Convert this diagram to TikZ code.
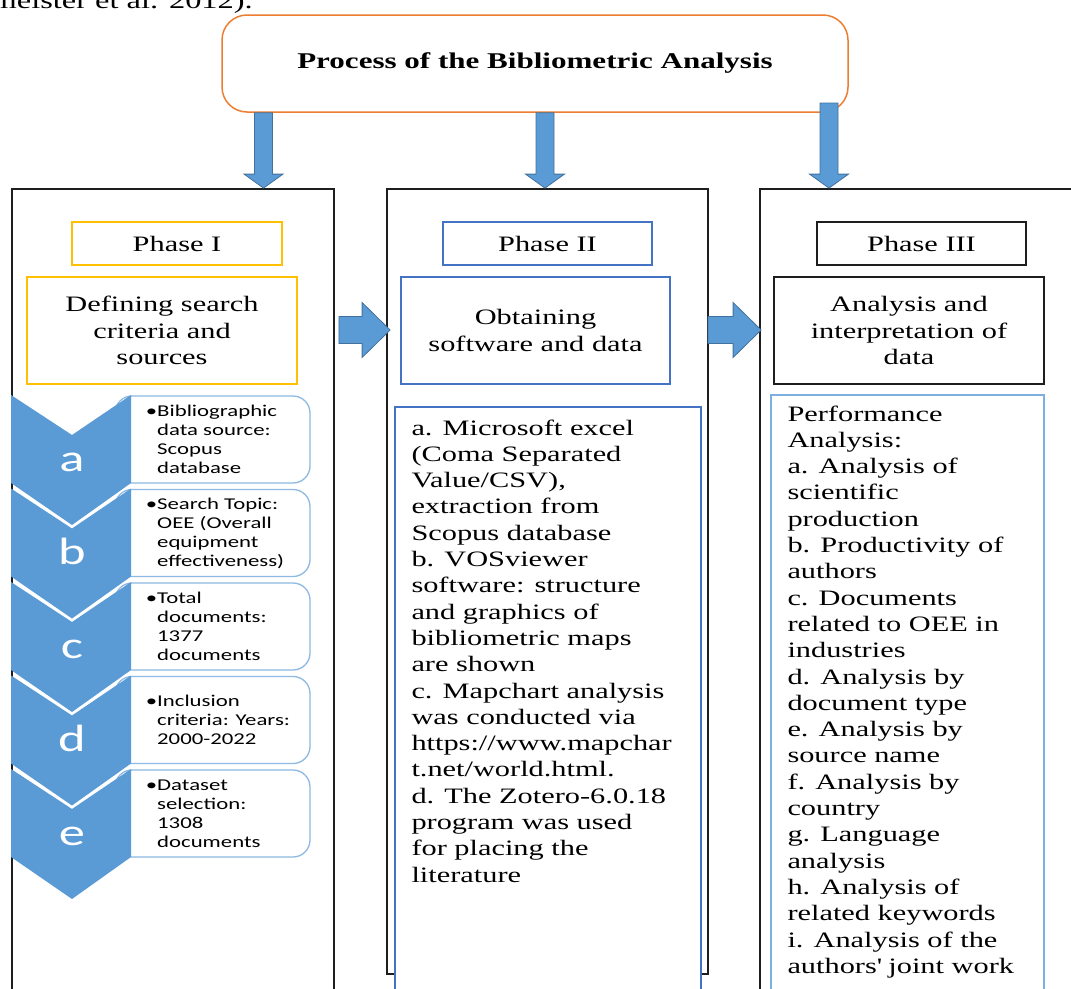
\documentclass[tikz,border=0pt]{standalone}
\usepackage{fontspec}
\setmainfont{Liberation Serif}[FakeStretch=1.38]
\newfontfamily\itemfont{Carlito}[FakeStretch=1.38]
\usepackage{tikz}
\usetikzlibrary{calc}
\definecolor{accentblue}{HTML}{5B9BD5}
\definecolor{arrowedge}{HTML}{41719C}
\definecolor{phaseblue}{HTML}{4472C4}
\definecolor{phaseyellow}{HTML}{FFC000}
\definecolor{titleorange}{HTML}{ED7D31}
\definecolor{itemblue}{HTML}{8DB9E2}
\definecolor{bodyblue}{HTML}{7DB0E0}
\definecolor{framegray}{HTML}{1E1E1E}
\newcommand{\bodyfont}{\fontsize{22pt}{26.3pt}\selectfont}
\tikzset{
  colframe/.style={draw=framegray, line width=1.8pt, fill=white, inner sep=0pt},
  phaselabel/.style={draw=#1, line width=1.4pt, fill=white, font=\bodyfont, align=center, inner sep=0pt},
  titlebox/.style={draw=titleorange, line width=1.5pt, rounded corners=25pt, font=\fontsize{22.5pt}{26pt}\selectfont\bfseries},
  bodybox/.style={draw=#1, line width=1.4pt, fill=white, inner sep=0pt},
  bodytext/.style={font=\bodyfont, align=left, inner sep=0pt},
  itembox/.style={draw=itemblue, line width=1.3pt, fill=white, rounded corners=17pt, inner sep=0pt},
  itemtext/.style={font=\itemfont\fontsize{16.5pt}{19pt}\selectfont, align=left, inner sep=0pt, anchor=west},
  chevlabel/.style={text=white, font=\itemfont\fontsize{38pt}{40pt}\selectfont, anchor=base, inner sep=0pt},
  blockarrow/.style={fill=accentblue, draw=arrowedge, line width=0.8pt, line join=miter}
}
% block arrow pointing down, from #2 to its tip #3
\newcommand{\blockdown}[3][]{%
  \draw[blockarrow,#1] let \p1=(#2), \p2=(#3) in
    (\x1-\shafthalf,\y1) -- (\x1+\shafthalf,\y1) -- (\x1+\shafthalf,\y2+\headlen)
    -- (\x1+\headhalf,\y2+\headlen) -- (\x1,\y2) -- (\x1-\headhalf,\y2+\headlen)
    -- (\x1-\shafthalf,\y2+\headlen) -- cycle;%
}
% block arrow pointing right, from #2 to its tip #3
\newcommand{\blockright}[3][]{%
  \draw[blockarrow,#1] let \p1=(#2), \p2=(#3) in
    (\x1,\y1+\rshafthalf) -- (\x2-\rheadlen,\y1+\rshafthalf) -- (\x2-\rheadlen,\y1+\rheadhalf)
    -- (\x2,\y1) -- (\x2-\rheadlen,\y1-\rheadhalf) -- (\x2-\rheadlen,\y1-\rshafthalf)
    -- (\x1,\y1-\rshafthalf) -- cycle;%
}

\begin{document}
\begin{tikzpicture}[x=1pt, y=-1pt]

  % page
  \useasboundingbox (0,0) rectangle (1071,988);

  % sizes of the block arrows
  \def\shafthalf{9pt}
  \def\headhalf{19.5pt}
  \def\headlen{14pt}
  \def\rshafthalf{13.5pt}
  \def\rheadhalf{27.5pt}
  \def\rheadlen{28pt}

  % end of the sentence above the figure
  \node[anchor=base east, font=\fontsize{23.5pt}{28pt}\selectfont, inner sep=0pt] (cite) at (253,8) {meister et al. 2012).};

  % title
  \node[titlebox, minimum width=626pt, minimum height=97pt] (title) at (535,63.5) {Process of the Bibliometric Analysis};

  % columns
  \node[colframe, minimum width=322pt, minimum height=830pt] (col1) at (173,604) {};
  \node[colframe, minimum width=321pt, minimum height=785pt] (col2) at (547.5,581.5) {};
  \node[colframe, minimum width=330pt, minimum height=830pt] (col3) at (925,604) {};

  % phase labels
  \node[phaselabel=phaseyellow, minimum width=210pt, minimum height=43pt] (phase1) at (177,243.5) {Phase I};
  \node[phaselabel=phaseblue, minimum width=209pt, minimum height=43pt] (phase2) at (547.5,243.5) {Phase II};
  \node[phaselabel=framegray, minimum width=209pt, minimum height=43pt] (phase3) at (921.5,243.5) {Phase III};

  % phase contents
  \node[phaselabel=phaseyellow, minimum width=270pt, minimum height=107pt] (stage1) at (162,330.5) {Defining search\\criteria and\\sources};
  \node[phaselabel=phaseblue, minimum width=269pt, minimum height=107pt] (stage2) at (535.5,330.5) {Obtaining\\software and data};
  \node[phaselabel=framegray, minimum width=270pt, minimum height=107pt] (stage3) at (909,330.5) {Analysis and\\interpretation of\\data};

  % steps of phase I
  \foreach \i/\lab in {0/a, 1/b, 2/c, 3/d, 4/e}{
    \pgfmathsetmacro{\yo}{395+\i*93.5}
    \node[itembox, minimum width=195pt, minimum height=87pt] (item\lab) at (212.5,\yo+44.5) {};
    \fill[accentblue] (11,\yo) -- (72,\yo+40) -- (131,\yo) -- (131,\yo+88)
      -- (72,\yo+130) -- (11,\yo+88) -- cycle;
    \node[chevlabel] (chev\lab) at (72,\yo+76) {\lab};
  }
  \coordinate (textcol) at (157,0);
  \node[itemtext] (texta) at (itema -| textcol) {\llap{•}Bibliographic\\data source:\\Scopus\\database};
  \node[itemtext] (textb) at (itemb -| textcol) {\llap{•}Search Topic:\\OEE (Overall\\equipment\\effectiveness)};
  \node[itemtext] (textc) at (itemc -| textcol) {\llap{•}Total\\documents:\\1377\\documents};
  \node[itemtext] (textd) at (itemd -| textcol) {\llap{•}Inclusion\\criteria: Years:\\2000-2022};
  \node[itemtext] (texte) at (iteme -| textcol) {\llap{•}Dataset\\selection:\\1308\\documents};

  % lists of phases II and III
  \node[bodybox=phaseblue, minimum width=306pt, minimum height=603pt] (body2) at (548,708.5) {};
  \node[bodybox=bodyblue, minimum width=273pt, minimum height=615pt] (body3) at (907.5,702.5) {};
  \node[bodytext, anchor=north west] (list2) at ($(body2.north west)+(17,13)$)
    {a. Microsoft excel\\(Coma Separated\\Value/CSV),\\extraction from\\Scopus database\\b. VOSviewer\\software: structure\\and graphics of\\bibliometric maps\\are shown\\c. Mapchart analysis\\was conducted via\\https://www.mapchar\\t.net/world.html.\\d. The Zotero-6.0.18\\program was used\\for placing the\\literature};
  \node[bodytext, anchor=north west] (list3) at ($(body3.north west)+(17,11)$)
    {Performance\\Analysis:\\a. Analysis of\\scientific\\production\\b. Productivity of\\authors\\c. Documents\\related to OEE in\\industries\\d. Analysis by\\document type\\e. Analysis by\\source name\\f. Analysis by\\country\\g. Language\\analysis\\h. Analysis of\\related keywords\\i. Analysis of the\\authors\textquotesingle{} joint work};

  % arrows
  \coordinate (arrA) at (263.5,0);
  \coordinate (arrB) at (545,0);
  \coordinate (arrC) at (829,103);
  \coordinate (rowA) at (0,330);
  \blockdown{title.south -| arrA}{col1.north -| arrA}
  \blockdown{title.south -| arrB}{col2.north -| arrB}
  \blockdown{arrC}{col3.north -| arrC}
  \blockright{$(col1.east |- rowA)+(4,0)$}{$(col2.west |- rowA)+(4,0)$}
  \blockright{$(col2.east |- rowA)+(-1,0)$}{$(col3.west |- rowA)+(2,0)$}

\end{tikzpicture}
\end{document}
